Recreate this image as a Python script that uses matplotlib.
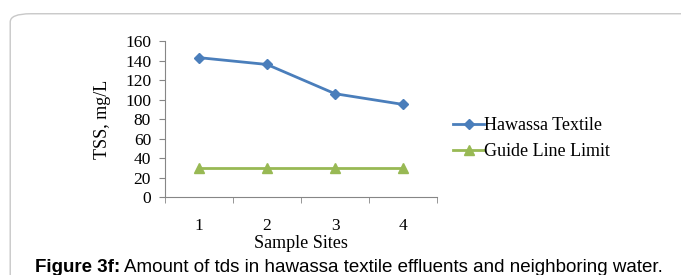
import matplotlib.pyplot as plt
from matplotlib.patches import FancyBboxPatch

# data
sites = [1, 2, 3, 4]
hawassa = [143, 136, 106, 95]
guide = [30, 30, 30, 30]
yticks = [0, 20, 40, 60, 80, 100, 120, 140, 160]

serif = ['Liberation Serif', 'DejaVu Serif']
sans = ['Liberation Sans', 'DejaVu Sans']
fs = 13

fig = plt.figure(figsize=(6.81, 2.75), dpi=100)

# rounded grey frame behind everything
frame = FancyBboxPatch((0.015, -0.05), 1.2, 1.0, boxstyle="round,pad=0,rounding_size=0.03",
                       transform=fig.transFigure, facecolor='white', edgecolor='#c8c8c8',
                       lw=1.0, zorder=-5)
fig.patches.append(frame)

ax = fig.add_axes([0.2423, 0.2836, 0.3994, 0.567])
ax.patch.set_alpha(0)
ax.plot(sites, hawassa, color='#4A7EBB', lw=2, marker='D', ms=5.5, label='Hawassa Textile')
ax.plot(sites, guide, color='#98B954', lw=2, marker='^', ms=7, label='Guide Line Limit')

ax.set_xlim(0.5, 4.5)
ax.set_ylim(0, 160)
ax.set_yticks(yticks)
ax.set_xticks(sites)
ax.set_xticks([0.5, 1.5, 2.5, 3.5, 4.5], minor=True)
ax.tick_params(axis='x', which='major', length=0, pad=15)
ax.tick_params(axis='x', which='minor', length=4, color='#868686')
ax.tick_params(axis='y', length=4, color='#868686', pad=6)
for lab in ax.get_xticklabels() + ax.get_yticklabels():
    lab.set_family(serif)
    lab.set_fontsize(12.5)

for s in ['top', 'right']:
    ax.spines[s].set_visible(False)
for s in ['left', 'bottom']:
    ax.spines[s].set_color('#868686')

ax.set_ylabel('TSS, mg/L', family=serif, fontsize=fs, labelpad=10)
ax.set_xlabel('Sample Sites', family=serif, fontsize=fs, labelpad=1)

ax.legend(loc='center left', bbox_to_anchor=(1.0, 0.375), frameon=False,
          prop={'family': serif, 'size': fs}, handlelength=1.7, handletextpad=0.0,
          labelspacing=0.5)

fig.text(0.051, 0.01, 'Figure 3f:', family=sans, fontweight='bold', fontsize=13.5)
fig.text(0.182, 0.01, 'Amount of tds in hawassa textile effluents and neighboring water.',
         family=sans, fontsize=13.5)

fig.savefig('out.png', dpi=100)
